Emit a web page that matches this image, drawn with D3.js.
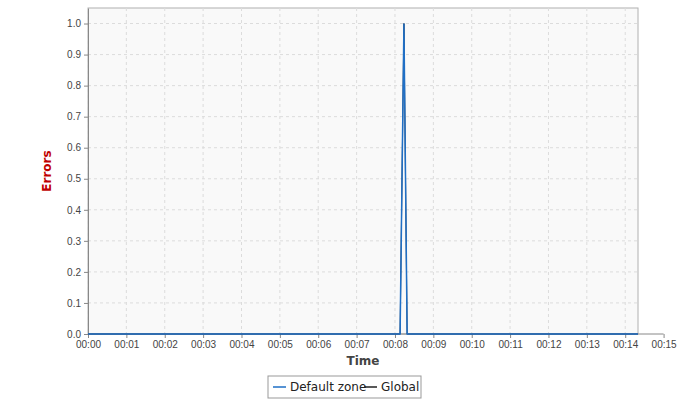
<!DOCTYPE html>
<html><head><meta charset="utf-8">
<script src="https://cdn.jsdelivr.net/npm/d3@7"></script>
<style>body{margin:0;background:#fff;font-family:"DejaVu Sans",sans-serif}</style>
</head><body><svg id="chart" width="690" height="400"></svg>
<script>
// times in seconds since start
const zoneTimes = [0, 488, 494, 499, 860];
const zoneErrors = [0, 0, 1, 0, 0];
const globalTimes = [0, 488, 494, 499, 860];
const globalErrors = [0, 0, 1, 0, 0];
const yTicks = [0,0.1,0.2,0.3,0.4,0.5,0.6,0.7,0.8,0.9,1.0];
const xTicks = d3.range(0, 16).map(m => m * 60);

const svg = d3.select("#chart");
const pLeft = 88, pRight = 638, pTop = 8, pBottom = 334;
const x = d3.scaleLinear().domain([0, 860]).range([pLeft, pRight]);
const y = d3.scaleLinear().domain([0, 1.05]).range([pBottom, pTop]);

svg.append("rect").attr("x", pLeft).attr("y", pTop).attr("width", pRight-pLeft).attr("height", pBottom-pTop)
  .attr("fill", "#f9f9f9").attr("stroke", "#b0b0b0");

//gridlines
svg.selectAll(".gx").data(xTicks.filter(t => x(t) <= pRight)).enter().append("line")
  .attr("x1", d => x(d)).attr("x2", d => x(d)).attr("y1", pTop).attr("y2", pBottom)
  .attr("stroke", "#dcdcdc").attr("stroke-dasharray", "3,3");
svg.selectAll(".gy").data(yTicks).enter().append("line")
  .attr("x1", pLeft).attr("x2", pRight).attr("y1", d => y(d)).attr("y2", d => y(d))
  .attr("stroke", "#dcdcdc").attr("stroke-dasharray", "3,3");

//axes
const fmt = s => "00:" + String(s/60).padStart(2, "0");
const xAxis = svg.append("g").attr("transform", `translate(0,${pBottom})`)
  .call(d3.axisBottom(x).tickValues(xTicks).tickFormat(fmt).tickSize(4).tickSizeOuter(0));
const yAxis = svg.append("g").attr("transform", `translate(${pLeft},0)`)
  .call(d3.axisLeft(y).tickValues(yTicks).tickFormat(d3.format(".1f")).tickSize(4).tickSizeOuter(0));
[xAxis, yAxis].forEach(a => {
  a.selectAll("text").attr("fill", "#444").style("font-size", "10px");
  a.selectAll("line,path").attr("stroke", "#888");
});
xAxis.select(".domain").attr("d", `M${pLeft},0H${x(900)}`);

svg.append("text").attr("x", (pLeft+pRight)/2).attr("y", 365).attr("text-anchor", "middle")
  .style("font-size", "12px").style("font-weight", "bold").attr("fill", "#444").text("Time");
svg.append("text").attr("transform", `translate(51,${(pTop+pBottom)/2}) rotate(-90)`).attr("text-anchor", "middle")
  .style("font-size", "12px").style("font-weight", "bold").attr("fill", "#c00000").text("Errors");

//lines
const line = d3.line().x(d => x(d[0])).y(d => y(d[1]));
svg.append("path").datum(d3.zip(globalTimes, globalErrors)).attr("d", line)
  .attr("fill", "none").attr("stroke", "#222").attr("stroke-width", 1);
svg.append("path").datum(d3.zip(zoneTimes, zoneErrors)).attr("d", line)
  .attr("fill", "none").attr("stroke", "#1f6fc6").attr("stroke-width", 1.5);

//legend
const lg = svg.append("g");
lg.append("rect").attr("x", 268).attr("y", 376).attr("width", 153).attr("height", 22)
  .attr("fill", "#fff").attr("stroke", "#999");
[["Default zone", "#1f6fc6", 273], ["Global", "#222", 364]].forEach(([name, c, lx]) => {
  lg.append("line").attr("x1", lx).attr("x2", lx+13).attr("y1", 387).attr("y2", 387).attr("stroke", c).attr("stroke-width", 1.5);
  lg.append("text").attr("x", lx+17).attr("y", 391).style("font-size", "12px").attr("fill", "#222").text(name);
});
</script></body></html>
